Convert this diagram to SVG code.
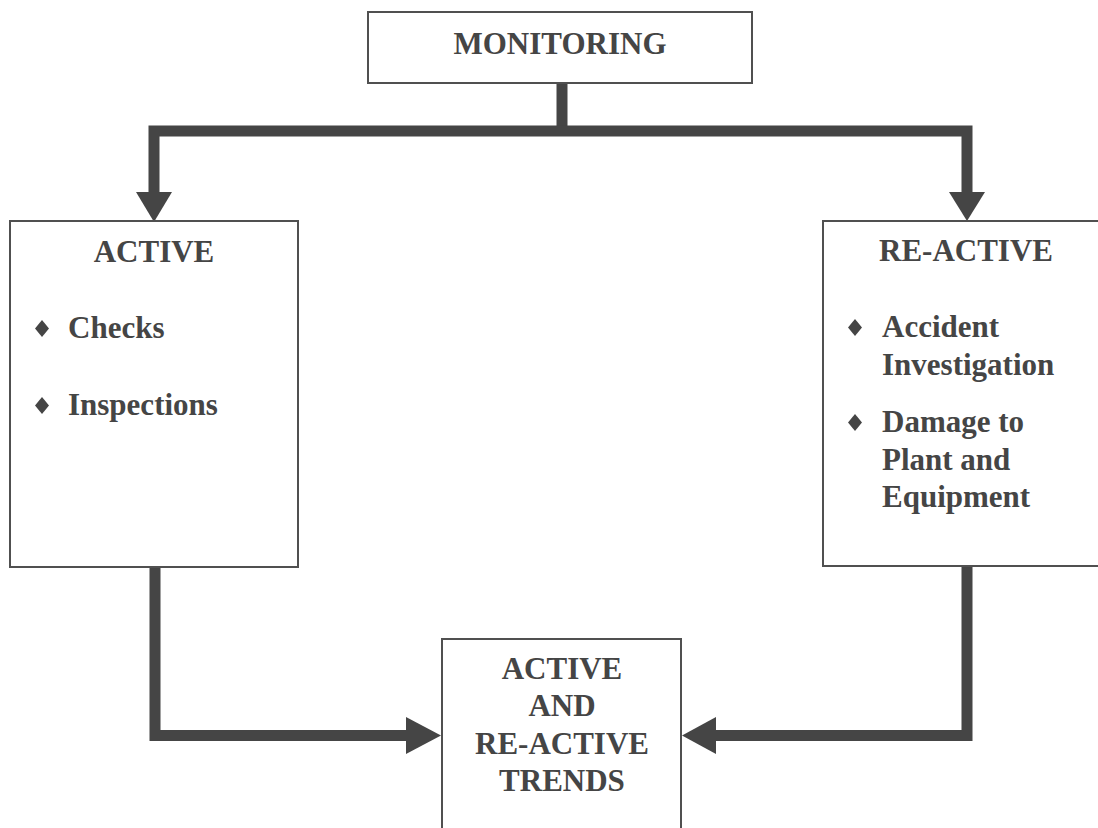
<svg xmlns="http://www.w3.org/2000/svg" width="1098" height="828" viewBox="0 0 1098 828">
<style>
.box{fill:#fff;stroke:#505050;stroke-width:2}
.t{font-family:"Liberation Serif","Times New Roman",serif;font-weight:bold;font-size:31px;fill:#454545}
.c{text-anchor:middle}
.bar{fill:none;stroke:#454545;stroke-width:11;stroke-linejoin:miter;stroke-linecap:butt}
.head{fill:#454545}
.dia{fill:#454545}
</style>
<rect width="1098" height="828" fill="#fff"/>
<g id="connectors">
<path class="bar" d="M562,83 V131"/>
<path class="bar" d="M154,194 V131 H967 V194"/>
<polygon class="head" points="136,192 172,192 154,222"/>
<polygon class="head" points="949,192 985,192 967,221"/>
<path class="bar" d="M155,567 V735.5 H408"/>
<polygon class="head" points="406,717 406,754 441,735.5"/>
<path class="bar" d="M967,566 V735.5 H714"/>
<polygon class="head" points="716,717 716,754 682,735.5"/>
</g>
<g id="monitoring">
<rect class="box" x="368" y="12" width="384" height="71"/>
<text class="t c" x="560" y="54">MONITORING</text>
</g>
<g id="active">
<rect class="box" x="10" y="221" width="288" height="346"/>
<text class="t c" x="154" y="262">ACTIVE</text>
<polygon class="dia" points="42,320 49,328.5 42,337 35,328.5"/>
<text class="t" x="68" y="338">Checks</text>
<polygon class="dia" points="42,397 49,405.5 42,414 35,405.5"/>
<text class="t" x="68" y="415">Inspections</text>
</g>
<g id="reactive">
<rect class="box" x="823" y="221" width="290" height="345"/>
<text class="t c" x="966" y="261">RE-ACTIVE</text>
<polygon class="dia" points="855,319 862,327.5 855,336 848,327.5"/>
<text class="t" x="882" y="337">Accident</text>
<text class="t" x="882" y="375">Investigation</text>
<polygon class="dia" points="855,414 862,422.5 855,431 848,422.5"/>
<text class="t" x="882" y="432">Damage to</text>
<text class="t" x="882" y="470">Plant and</text>
<text class="t" x="882" y="507">Equipment</text>
</g>
<g id="trends">
<rect class="box" x="442" y="639" width="239" height="200"/>
<text class="t c" x="562" y="679">ACTIVE</text>
<text class="t c" x="562" y="716">AND</text>
<text class="t c" x="562" y="754">RE-ACTIVE</text>
<text class="t c" x="562" y="791">TRENDS</text>
</g>
</svg>
